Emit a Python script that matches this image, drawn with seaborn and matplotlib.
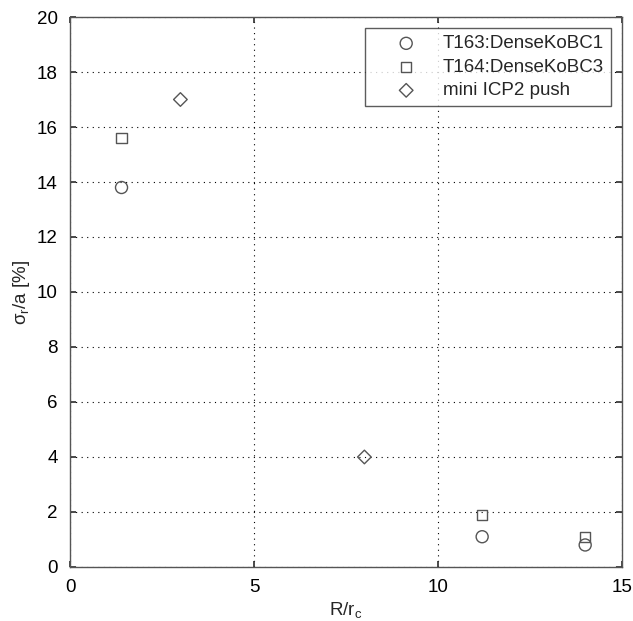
import matplotlib
matplotlib.use("Agg")
import matplotlib.pyplot as plt
import seaborn as sns
import pandas as pd

sns.set_theme(style="white")
plt.rcParams["font.family"] = ["Liberation Sans", "DejaVu Sans"]
plt.rcParams["mathtext.fontset"] = "custom"
plt.rcParams["mathtext.rm"] = "Liberation Sans"

# Measurements per run
t163_x = [1.4, 11.2, 14.0]
t163_y = [13.8, 1.1, 0.8]
t164_x = [1.4, 11.2, 14.0]
t164_y = [15.6, 1.9, 1.1]
icp_x = [3.0, 8.0]
icp_y = [17.0, 4.0]

series = ["T163:DenseKoBC1", "T164:DenseKoBC3", "mini ICP2 push"]
frames = []
for name, xs, ys in zip(series, [t163_x, t164_x, icp_x], [t163_y, t164_y, icp_y]):
    frames.append(pd.DataFrame({"R": xs, "sigma": ys, "run": name}))
df = pd.concat(frames, ignore_index=True)

fig = plt.figure(figsize=(6.33, 6.21), dpi=100)
ax = fig.add_axes([0.1106, 0.087, 0.872, 0.8856])

markers = {"T163:DenseKoBC1": "o", "T164:DenseKoBC3": "s", "mini ICP2 push": "D"}
sizes = {"T163:DenseKoBC1": 75, "T164:DenseKoBC3": 55, "mini ICP2 push": 48}
for name in series:
    sub = df[df["run"] == name]
    sns.scatterplot(data=sub, x="R", y="sigma", marker=markers[name],
                    s=sizes[name], facecolor="none", edgecolor="#555555",
                    linewidth=1.0, ax=ax, label=name)

ax.set_xlim(0, 15)
ax.set_ylim(0, 20)
ax.set_xticks([0, 5, 10, 15])
ax.set_yticks(range(0, 21, 2))
ax.grid(True, color="black", linestyle=(0, (1, 4)), linewidth=0.8)
for sp in ax.spines.values():
    sp.set_color("#555555")
    sp.set_linewidth(1.0)
ax.tick_params(axis="both", labelsize=13.5, colors="#333333", direction="in",
               length=4, pad=9, left=True, bottom=True, right=True, top=True)
for lbl in ax.get_xticklabels() + ax.get_yticklabels():
    lbl.set_color("black")

ax.set_xlabel(r"R/r$_\mathregular{c}$", fontsize=13.5, labelpad=3)
ax.set_ylabel(r"$\mathregular{\sigma_r}$/a [%]", fontsize=13.5, labelpad=3)

leg = ax.legend(loc="upper right", fontsize=13.5, frameon=True, fancybox=False,
                edgecolor="#333333", borderaxespad=0,
                bbox_to_anchor=(611 / 633, (621 - 28) / 621),
                bbox_transform=fig.transFigure,
                handletextpad=0.15, handlelength=3.6,
                labelspacing=0.34, borderpad=0.38)
leg.get_frame().set_linewidth(1.0)

fig.savefig("out.png", dpi=100)
